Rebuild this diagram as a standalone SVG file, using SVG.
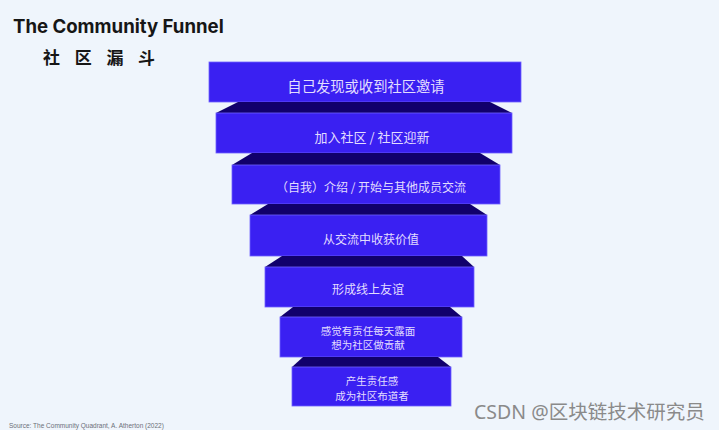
<svg xmlns="http://www.w3.org/2000/svg" width="719" height="430" viewBox="0 0 719 430">
<style>
.bg{fill:#eff5fc}
.front{fill:#3a20f2;stroke:#6f60ff;stroke-width:0.8}
.top{fill:#11006c}
.lbl{font-family:"Noto Sans CJK SC","Noto Sans",sans-serif;fill:#e2ddff;text-anchor:middle;dominant-baseline:central}
.title{font-family:Inter,"Noto Sans",sans-serif;font-weight:700;font-size:18.6px;fill:#161616}
.sub{font-family:"Noto Sans CJK SC",sans-serif;font-weight:700;font-size:17px;fill:#161616;letter-spacing:14.7px}
.src{font-family:"Liberation Sans",sans-serif;font-size:6.5px;fill:#6b6f78}
.wm{font-family:"Noto Sans","Noto Sans CJK SC",sans-serif;font-size:19.5px;fill:#8a8a8a}
</style>
<rect class="bg" x="0" y="0" width="719" height="430"/>
<text class="title" x="13" y="33">The Community Funnel</text>
<text class="sub" x="43" y="64">社区漏斗</text>

<g id="stage1">
<rect class="front" x="209" y="62" width="312" height="40"/>
<text class="lbl" x="366" y="85" font-size="14.3">自己发现或收到社区邀请</text>
</g>
<g id="stage2">
<polygon class="top" points="238,102 490,102 512,113 216,113"/>
<rect class="front" x="216" y="113" width="296" height="40"/>
<text class="lbl" x="372" y="136" font-size="13">加入社区 / 社区迎新</text>
</g>
<g id="stage3">
<polygon class="top" points="252,153 480,153 500,165 232,165"/>
<rect class="front" x="232" y="165" width="268" height="39"/>
<text class="lbl" x="371" y="186" font-size="12">（自我）介绍 / 开始与其他成员交流</text>
</g>
<g id="stage4">
<polygon class="top" points="268,204 470,204 487,215 250,215"/>
<rect class="front" x="250" y="215" width="237" height="41"/>
<text class="lbl" x="371" y="238" font-size="12">从交流中收获价值</text>
</g>
<g id="stage5">
<polygon class="top" points="282,256 462,256 474,267 265,267"/>
<rect class="front" x="265" y="267" width="209" height="40"/>
<text class="lbl" x="368" y="288" font-size="12">形成线上友谊</text>
</g>
<g id="stage6">
<polygon class="top" points="293,307 450,307 462,317 280,317"/>
<rect class="front" x="280" y="317" width="182" height="40"/>
<text class="lbl" x="368" y="330" font-size="10.5">感觉有责任每天露面</text>
<text class="lbl" x="368" y="344" font-size="10.5">想为社区做贡献</text>
</g>
<g id="stage7">
<polygon class="top" points="303,357 438,357 451,367 292,367"/>
<rect class="front" x="292" y="367" width="159" height="39"/>
<text class="lbl" x="372" y="380" font-size="10.5">产生责任感</text>
<text class="lbl" x="372" y="395" font-size="10.5">成为社区布道者</text>
</g>

<g id="connectors"/>

<text class="wm" x="474" y="419">CSDN @区块链技术研究员</text>
<text class="src" x="9" y="428">Source: The Community Quadrant, A. Atherton (2022)</text>
</svg>
